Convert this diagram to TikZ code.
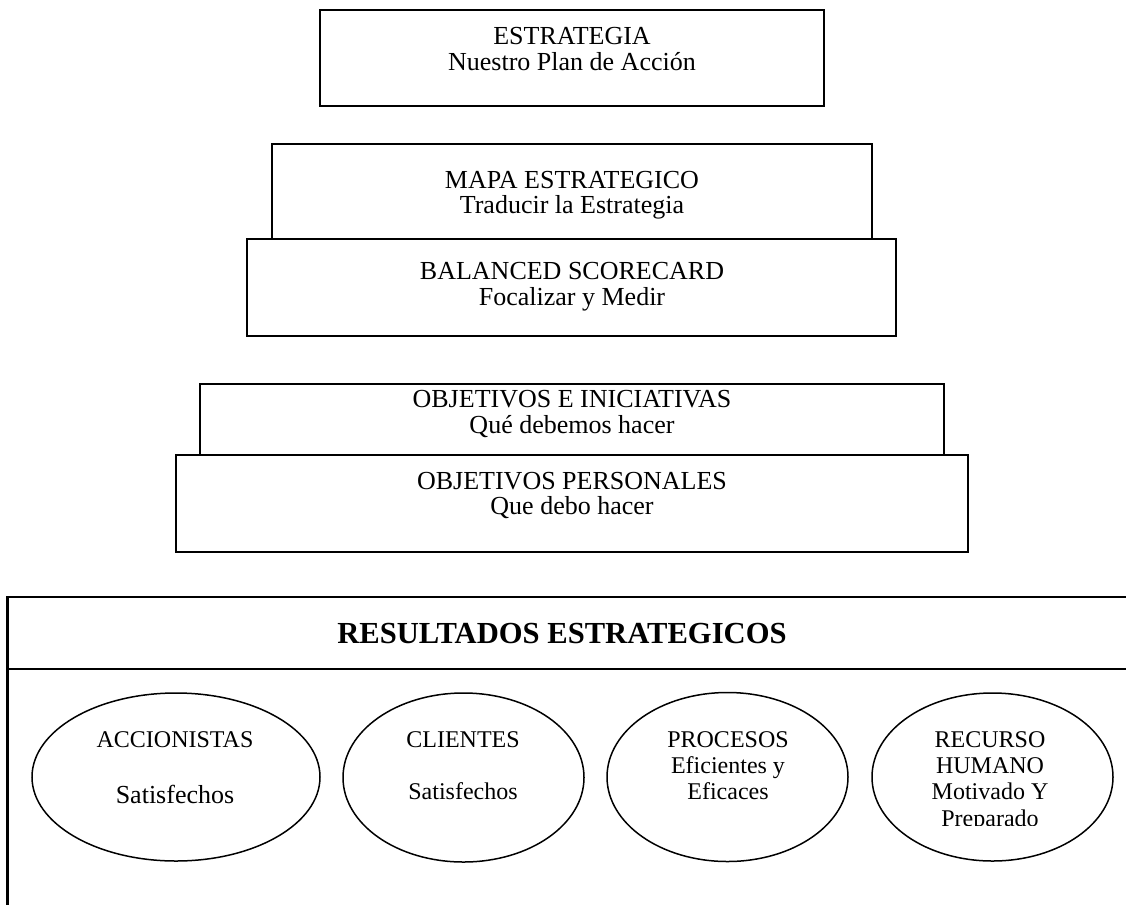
\documentclass[tikz,border=0pt]{standalone}
\usepackage{fontspec}
\setmainfont{Liberation Serif}
\usetikzlibrary{positioning,shapes.geometric}
\tikzset{
  tier/.style={rectangle, draw=black, line width=2pt, inner sep=0pt},
  tiertext/.style={anchor=north, align=center, inner sep=0pt, font=\fontsize{26}{25.5}\selectfont},
  goal/.style={ellipse, draw=black, line width=1.5pt, inner sep=0pt},
  goaltext/.style={anchor=north, align=center, inner sep=0pt, font=\fontsize{24}{26.2}\selectfont},
  banner/.style={anchor=base, inner sep=0pt, font=\fontsize{30.6}{32}\selectfont\bfseries},
  frame/.style={line width=2.2pt, draw=black}
}

\begin{document}
\begin{tikzpicture}[x=1pt, y=-1pt]
\useasboundingbox (0,0) rectangle (1126,905);

% --- Tiers, top to bottom ---
\node[tier, minimum width=504, minimum height=96] (estr) at (572,58) {};
\node[tiertext] (estrtxt) at (572,27.5) {ESTRATEGIA\\Nuestro Plan de Acción};

\node[tier, minimum width=600, minimum height=95] (mapa) at (572,191.5) {};
\node[tiertext] (mapatxt) at (572,171) {MAPA ESTRATEGICO\\Traducir la Estrategia};

\node[tier, minimum width=649, minimum height=97] (bsc) at (571.5,287.5) {};
\node[tiertext] (bsctxt) at (572,262.5) {BALANCED SCORECARD\\Focalizar y Medir};

\node[tier, minimum width=744, minimum height=71] (inic) at (572,419.5) {};
\node[tiertext] (inictxt) at (572,390.5) {OBJETIVOS E INICIATIVAS\\Qué debemos hacer};

\node[tier, minimum width=792, minimum height=97] (pers) at (572,503.5) {};
\node[tiertext] (perstxt) at (572,472) {OBJETIVOS PERSONALES\\Que debo hacer};

% --- Results frame (open to the right and below) ---
\draw[frame] (1126,597) -- (7.5,597) -- (7.5,905);
\draw[frame] (7.5,669) -- (1126,669);
\node[banner] (result) at (562,643) {RESULTADOS ESTRATEGICOS};

% --- Perspectives ---
\node[goal, minimum width=288, minimum height=168] (accion) at (176,777) {};
\node[goaltext] (acciontxt) at (175,731) {ACCIONISTAS\\[30pt]{\fontsize{26}{26.2}\selectfont Satisfechos}};

\node[goal, minimum width=241, minimum height=169] (client) at (463.5,777.5) {};
\node[goaltext] (clienttxt) at (463,731.5) {CLIENTES\\[26pt]Satisfechos};

\node[goal, minimum width=241, minimum height=169] (proc) at (727.5,777) {};
\node[goaltext] (proctxt) at (728,731.3) {PROCESOS\\Eficientes y\\Eficaces};

\node[goal, minimum width=241, minimum height=168] (rrhh) at (992.5,777) {};
\begin{scope}
  \clip (870,690) rectangle (1115,825);
  \node[goaltext] (rrhhtxt) at (990,731.3) {RECURSO\\HUMANO\\Motivado Y\\Preparado};
\end{scope}

\end{tikzpicture}
\end{document}
